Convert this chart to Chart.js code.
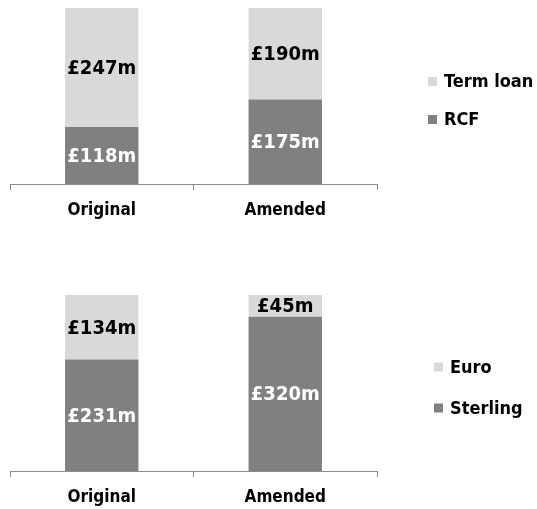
<!DOCTYPE html>
<html lang="en">
<head>
  <meta charset="UTF-8">
  <title>Facilities</title>
  <script src="https://cdn.jsdelivr.net/npm/chart.js@4/dist/chart.umd.min.js"></script>
  <style>
    html, body { margin: 0; padding: 0; background: #fff; }
    .box { position: relative; width: 537px; }
  </style>
</head>
<body>
  <div class="box" style="height:250px"><canvas id="facilityChart" width="537" height="250"></canvas></div>
  <div class="box" style="height:259px"><canvas id="currencyChart" width="537" height="259"></canvas></div>
  <script>
    const categories = ['Original', 'Amended'];
    // Övre diagram
    const rcfValues = [118, 175];
    const termLoanValues = [247, 190];
    // Nedre diagram
    const sterlingValues = [231, 320];
    const euroValues = [134, 45];

    const LIGHT = '#d9d9d9';
    const DARK = '#808080';
    const FONT = "'DejaVu Sans Condensed', 'DejaVu Sans', sans-serif";

    // Etiketter mitt i varje stapelsegment
    const barLabels = {
      id: 'barLabels',
      afterDatasetsDraw(chart) {
        const ctx = chart.ctx;
        ctx.save();
        ctx.font = 'bold 20px ' + FONT;
        ctx.textAlign = 'center';
        ctx.textBaseline = 'middle';
        chart.data.datasets.forEach((ds, i) => {
          chart.getDatasetMeta(i).data.forEach((el, j) => {
            ctx.fillStyle = ds.labelColor;
            ctx.fillText('£' + ds.data[j] + 'm', el.x, (el.y + el.base) / 2 + 1);
          });
        });
        ctx.restore();
      }
    };

    // Egen legend till höger, översta serien först
    const sideLegend = {
      id: 'sideLegend',
      afterDraw(chart, args, opts) {
        const ctx = chart.ctx;
        ctx.save();
        ctx.font = 'bold 18px ' + FONT;
        ctx.textBaseline = 'middle';
        const items = chart.data.datasets.slice().reverse();
        items.forEach((ds, i) => {
          const y = opts.top + i * opts.gap;
          ctx.fillStyle = ds.backgroundColor;
          ctx.fillRect(opts.left, y - 4.5, 9, 9);
          ctx.fillStyle = '#000';
          ctx.textAlign = 'left';
          ctx.fillText(ds.label, opts.left + 16, y + 1);
        });
        ctx.restore();
      }
    };

    function makeChart(id, bottomData, topData, bottomLabel, topLabel, padTop, axisHeight, legend) {
      return new Chart(document.getElementById(id), {
        type: 'bar',
        data: {
          labels: categories,
          datasets: [
            { label: bottomLabel, data: bottomData, backgroundColor: DARK, labelColor: '#fff' },
            { label: topLabel, data: topData, backgroundColor: LIGHT, labelColor: '#000' }
          ]
        },
        options: {
          responsive: false,
          animation: false,
          events: [],
          layout: { padding: { top: padTop, left: 10, right: 160, bottom: 0 } },
          datasets: { bar: { barPercentage: 1, categoryPercentage: 0.4 } },
          scales: {
            x: {
              stacked: true,
              grid: { display: true, drawOnChartArea: false, drawTicks: true, tickLength: 6, tickColor: '#8c8c8c', offset: true },
              border: { display: true, color: '#8c8c8c', width: 1 },
              ticks: { color: '#000', font: { family: FONT, size: 17, weight: 'bold' }, padding: 10 },
              afterFit(scale) { scale.height = axisHeight; }
            },
            y: { stacked: true, display: false, min: 0, max: 365 }
          },
          plugins: {
            legend: { display: false },
            tooltip: { enabled: false },
            sideLegend: legend
          }
        },
        plugins: [barLabels, sideLegend]
      });
    }

    makeChart('facilityChart', rcfValues, termLoanValues, 'RCF', 'Term loan', 8, 66, { left: 428, top: 81.5, gap: 38 });
    makeChart('currencyChart', sterlingValues, euroValues, 'Sterling', 'Euro', 45, 38, { left: 434, top: 117, gap: 41 });
  </script>
</body>
</html>
